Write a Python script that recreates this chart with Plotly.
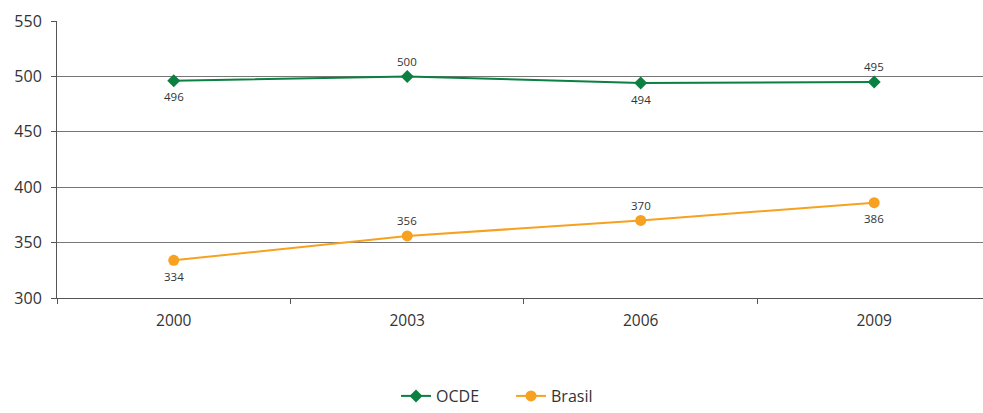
import plotly.graph_objects as go

years = ["2000", "2003", "2006", "2009"]
ocde = [496, 500, 494, 495]
brasil = [334, 356, 370, 386]
ocde_side = ["below", "above", "below", "above"]
brasil_side = ["below", "above", "above", "below"]

GREEN = "#0b8040"
ORANGE = "#f6a11f"

fig = go.Figure()
fig.add_trace(go.Scatter(
    x=years, y=ocde, name="OCDE", mode="lines+markers",
    line=dict(color=GREEN, width=2),
    marker=dict(symbol="diamond", size=10, color=GREEN),
))
fig.add_trace(go.Scatter(
    x=years, y=brasil, name="Brasil", mode="lines+markers",
    line=dict(color=ORANGE, width=2),
    marker=dict(symbol="circle", size=11, color=ORANGE),
))

for vals, sides in ((ocde, ocde_side), (brasil, brasil_side)):
    for i, (v, s) in enumerate(zip(vals, sides)):
        fig.add_annotation(
            x=i, y=v, xref="x", yref="y", text=str(v), showarrow=False,
            yanchor="middle", yshift=(-16 if s == "below" else 15),
            font=dict(size=11.5, color="#333333"),
        )

fig.update_layout(
    width=983, height=413,
    margin=dict(l=57, r=0, t=21, b=115, autoexpand=False),
    paper_bgcolor="white", plot_bgcolor="white",
    font=dict(family="Open Sans, Noto Sans, sans-serif", color="#333333"),
    showlegend=True,
    legend=dict(orientation="h", x=396 / 983, xanchor="left", xref="container",
                y=-0.005, yanchor="bottom", yref="container",
                font=dict(size=16, color="#333333"),
                entrywidth=70, entrywidthmode="pixels",
                tracegroupgap=0),
)
fig.update_xaxes(
    type="category", range=[-0.5, 3.466], showgrid=False,
    showline=True, linecolor="#555555", linewidth=1,
    ticks="outside", tickson="boundaries", ticklen=5, tickcolor="#555555",
    tickfont=dict(size=15.5, color="#333333"), zeroline=False,
    ticklabelstandoff=8,
)
fig.update_yaxes(
    range=[300, 550], dtick=50, showgrid=True, gridcolor="#777777", gridwidth=1,
    showline=True, linecolor="#555555", linewidth=1,
    ticks="outside", ticklen=5, tickcolor="#555555",
    tickfont=dict(size=16, color="#333333"), zeroline=False,
    ticklabelstandoff=6,
)

fig.write_html("out.html")
